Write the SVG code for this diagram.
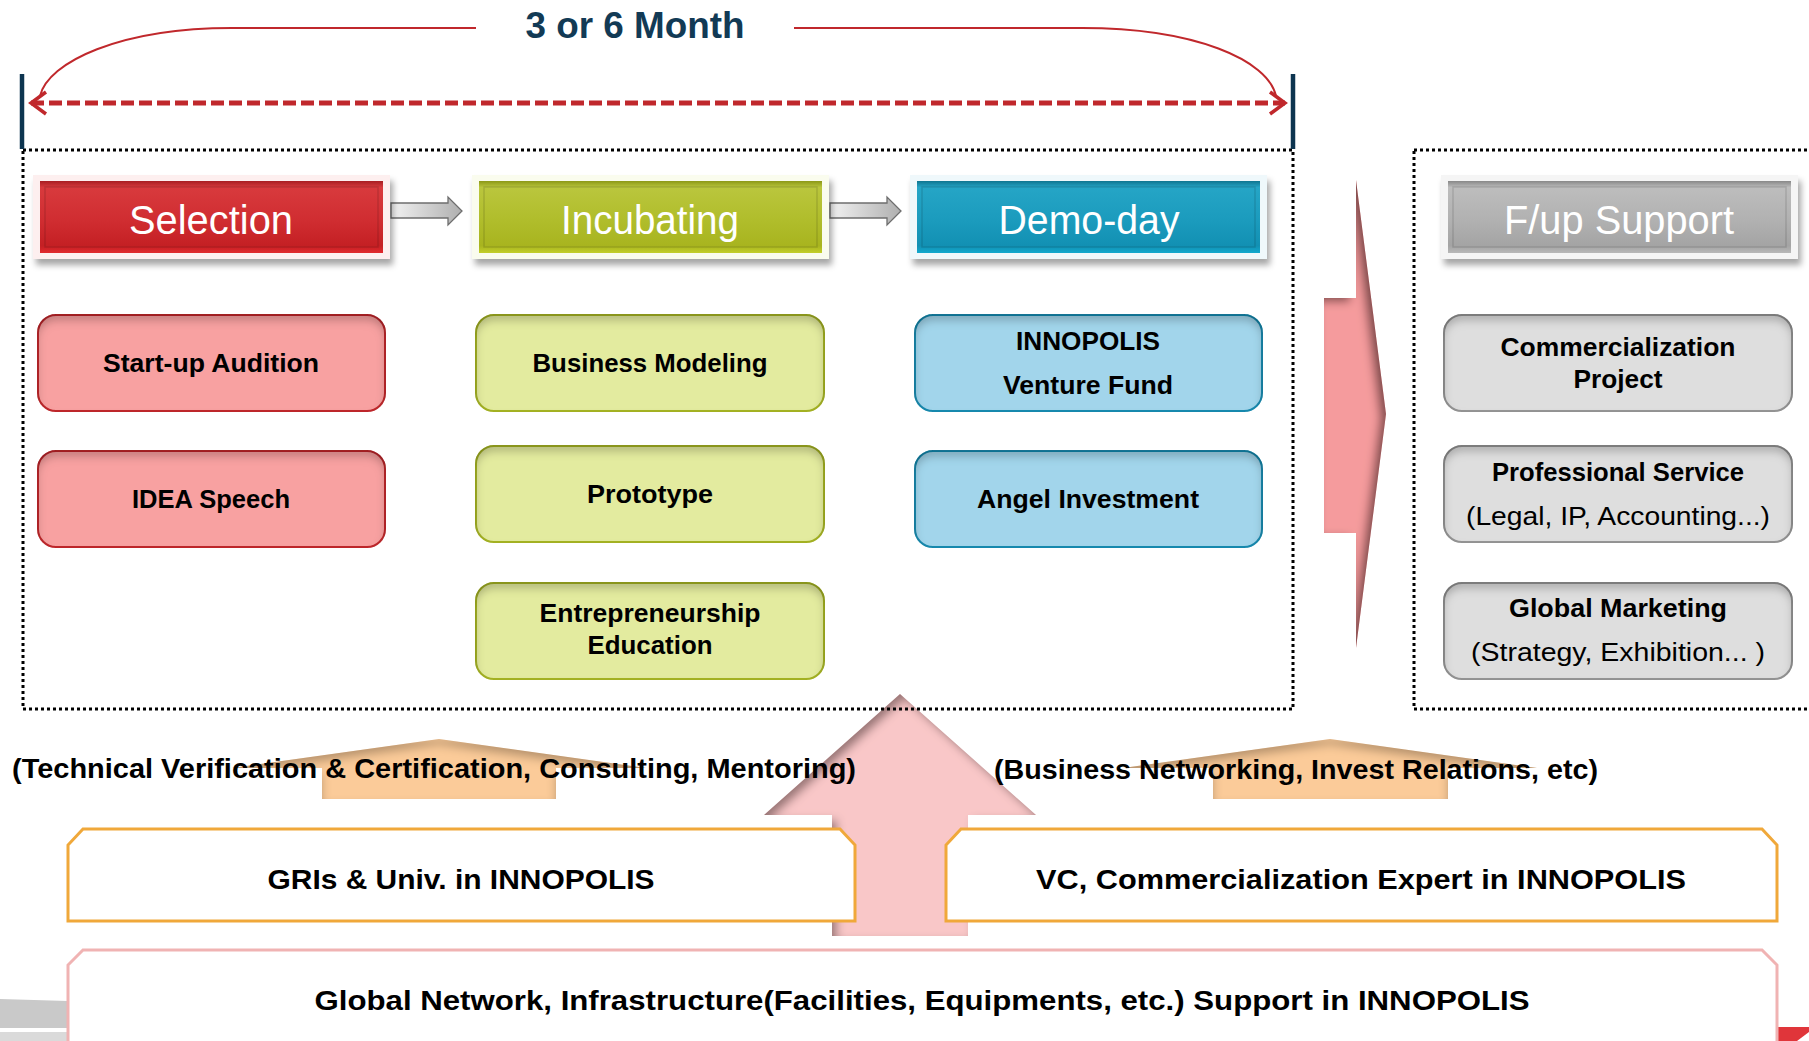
<svg xmlns="http://www.w3.org/2000/svg" width="1809" height="1041" viewBox="0 0 1809 1041">
<style>
.hdr{font-family:"Liberation Sans",Arial,sans-serif;font-size:40px;fill:#fff;text-anchor:middle}
.bt{font-family:"Liberation Sans",Arial,sans-serif;font-weight:bold;font-size:25px;fill:#000;text-anchor:middle}
.rt{font-family:"Liberation Sans",Arial,sans-serif;font-size:25px;fill:#000;text-anchor:middle}
.lbl{font-family:"Liberation Sans",Arial,sans-serif;font-weight:bold;font-size:28px;fill:#000;text-anchor:middle}
.dot{fill:none;stroke:#000;stroke-width:3;stroke-dasharray:3 3}
.frame{filter:url(#drop)}
.pk{fill:#F8A1A1;stroke:#C12B2E;stroke-width:2}
.lm{fill:#E3EB9F;stroke:#A6B426;stroke-width:2}
.bl{fill:#A2D5EB;stroke:#1D8BB0;stroke-width:2}
.gy{fill:#DEDEDE;stroke:#959595;stroke-width:2}
.ob{fill:#fff;stroke:#F0A83A;stroke-width:3}
.hbar{fill:url(#gArrow);stroke:#6E6E6E;stroke-width:1.3}
</style>
<defs>
<filter id="inner" x="-10%" y="-10%" width="120%" height="120%">
<feComponentTransfer in="SourceAlpha" result="inv"><feFuncA type="table" tableValues="1 0"/></feComponentTransfer>
<feGaussianBlur in="inv" stdDeviation="5" result="blur"/>
<feOffset in="blur" dx="0" dy="6" result="off"/>
<feFlood flood-color="#000" flood-opacity="0.5"/>
<feComposite in2="off" operator="in" result="sh"/>
<feComposite in="sh" in2="SourceAlpha" operator="in" result="ins"/>
<feMerge><feMergeNode in="SourceGraphic"/><feMergeNode in="ins"/></feMerge>
</filter>
<filter id="innerR" x="-20%" y="-10%" width="140%" height="120%">
<feComponentTransfer in="SourceAlpha" result="inv"><feFuncA type="table" tableValues="1 0"/></feComponentTransfer>
<feGaussianBlur in="inv" stdDeviation="5" result="blur"/>
<feOffset in="blur" dx="-6" dy="4" result="off"/>
<feFlood flood-color="#3a0d0d" flood-opacity="0.8"/>
<feComposite in2="off" operator="in" result="sh"/>
<feComposite in="sh" in2="SourceAlpha" operator="in" result="ins"/>
<feMerge><feMergeNode in="SourceGraphic"/><feMergeNode in="ins"/></feMerge>
</filter>
<filter id="innerU" x="-10%" y="-10%" width="120%" height="120%">
<feComponentTransfer in="SourceAlpha" result="inv"><feFuncA type="table" tableValues="1 0"/></feComponentTransfer>
<feGaussianBlur in="inv" stdDeviation="5" result="blur"/>
<feOffset in="blur" dx="5" dy="5" result="off"/>
<feFlood flood-color="#3a1a1a" flood-opacity="0.7"/>
<feComposite in2="off" operator="in" result="sh"/>
<feComposite in="sh" in2="SourceAlpha" operator="in" result="ins"/>
<feMerge><feMergeNode in="SourceGraphic"/><feMergeNode in="ins"/></feMerge>
</filter>
<filter id="drop" x="-10%" y="-20%" width="120%" height="150%">
<feDropShadow dx="3" dy="6" stdDeviation="3" flood-color="#000" flood-opacity="0.35"/>
</filter>
<linearGradient id="gRed" x1="0" y1="0" x2="0" y2="1">
<stop offset="0" stop-color="#A71E22"/><stop offset="0.09" stop-color="#D83A3D"/><stop offset="0.55" stop-color="#D02D31"/><stop offset="0.9" stop-color="#C42024"/><stop offset="1" stop-color="#E2292D"/>
</linearGradient>
<linearGradient id="gOlive" x1="0" y1="0" x2="0" y2="1">
<stop offset="0" stop-color="#8C9817"/><stop offset="0.09" stop-color="#BAC63D"/><stop offset="0.55" stop-color="#B0BD2B"/><stop offset="0.9" stop-color="#A8B41F"/><stop offset="1" stop-color="#C3CF2A"/>
</linearGradient>
<linearGradient id="gTeal" x1="0" y1="0" x2="0" y2="1">
<stop offset="0" stop-color="#0F7590"/><stop offset="0.09" stop-color="#25A5C6"/><stop offset="0.55" stop-color="#1B9BBD"/><stop offset="0.9" stop-color="#1290B3"/><stop offset="1" stop-color="#12A9CE"/>
</linearGradient>
<linearGradient id="gGray" x1="0" y1="0" x2="0" y2="1">
<stop offset="0" stop-color="#888"/><stop offset="0.09" stop-color="#BDBDBD"/><stop offset="0.55" stop-color="#B1B1B1"/><stop offset="0.9" stop-color="#A4A4A4"/><stop offset="1" stop-color="#B8B8B8"/>
</linearGradient>
<linearGradient id="gArrow" x1="0" y1="0" x2="1" y2="0">
<stop offset="0" stop-color="#F2F2F2"/><stop offset="1" stop-color="#AFAFAF"/>
</linearGradient>
<marker id="chev" viewBox="-6 -8 20 28" refX="11" refY="6" markerWidth="20" markerHeight="28" markerUnits="userSpaceOnUse" orient="auto-start-reverse">
<path d="M-4,-5 L11,6 L-4,17" fill="none" stroke="#C0282C" stroke-width="3.5"/>
</marker>
</defs>
<rect width="1809" height="1041" fill="#fff"/>

<!-- slide decorations -->
<polygon points="0,999 68,1001 68,1028 0,1028" fill="#C9C9C9"/>
<rect x="0" y="1032" width="68" height="9" fill="#DADADA"/>
<polygon points="1778,1027 1809,1027 1809,1032 1797,1041 1778,1041" fill="#E0353A"/>

<!-- big background arrows -->
<g id="arrows">
<polygon id="up-arrow" points="900,694 1036,815 968,815 968,936 832,936 832,815 764,815" fill="#F9C7C8" filter="url(#innerU)"/>
<polygon id="right-arrow" points="1324,298 1356,298 1356,180 1386,414 1356,648 1356,533 1324,533" fill="#F59B9D" filter="url(#innerR)"/>
<polygon id="small-arrow-left" points="439,739 646,768 556,768 556,799 322,799 322,768 232,768" fill="#FBCB99" filter="url(#inner)"/>
<polygon id="small-arrow-right" points="1330,739 1537,768 1448,768 1448,799 1213,799 1213,768 1123,768" fill="#FBCB99" filter="url(#inner)"/>
</g>

<!-- containers -->
<rect id="program-box" class="dot" x="23" y="150" width="1270" height="559"/>
<rect id="fup-box" class="dot" x="1414" y="150" width="400" height="559"/>

<!-- timeline -->
<g id="timeline">
<line x1="22" y1="74" x2="22" y2="149" stroke="#0D3550" stroke-width="4.5"/>
<line x1="1293" y1="74" x2="1293" y2="149" stroke="#0D3550" stroke-width="4.5"/>
<text x="635" y="38" font-family="'Liberation Sans',Arial,sans-serif" font-weight="bold" font-size="36" fill="#123A55" text-anchor="middle" textLength="219" lengthAdjust="spacingAndGlyphs">3 or 6 Month</text>
</g>

<g id="connectors" fill="none">
<path d="M476,28 L232,28 C120,28 48,62 40,96" stroke="#C0282C" stroke-width="2"/>
<path d="M794,28 L1082,28 C1195,28 1268,60 1276,96" stroke="#C0282C" stroke-width="2"/>
<line x1="31" y1="103" x2="1285" y2="103" stroke="#C0282C" stroke-width="5" stroke-dasharray="13 5" marker-start="url(#chev)" marker-end="url(#chev)"/>
<polygon class="hbar" points="391,203 448,203 448,197 462,211 448,225 448,218 391,218"/>
<polygon class="hbar" points="830,203 887,203 887,197 901,211 887,225 887,218 830,218"/>
</g>

<!-- header nodes -->
<g id="selection">
<rect class="frame" x="33" y="175" width="357" height="84" fill="#FDEFEF"/>
<rect x="40" y="181" width="343" height="72" fill="url(#gRed)"/>
<rect x="45" y="187" width="333" height="60" fill="none" stroke="#000" stroke-opacity="0.12" stroke-width="1.5"/>
<text class="hdr" x="211" y="234" textLength="164" lengthAdjust="spacingAndGlyphs">Selection</text>
</g>
<g id="incubating">
<rect class="frame" x="472" y="175" width="357" height="84" fill="#FAFCEE"/>
<rect x="479" y="181" width="343" height="72" fill="url(#gOlive)"/>
<rect x="484" y="187" width="333" height="60" fill="none" stroke="#000" stroke-opacity="0.12" stroke-width="1.5"/>
<text class="hdr" x="650" y="234" textLength="178" lengthAdjust="spacingAndGlyphs">Incubating</text>
</g>
<g id="demo-day">
<rect class="frame" x="910" y="175" width="357" height="84" fill="#EFF8FB"/>
<rect x="917" y="181" width="343" height="72" fill="url(#gTeal)"/>
<rect x="922" y="187" width="333" height="60" fill="none" stroke="#000" stroke-opacity="0.12" stroke-width="1.5"/>
<text class="hdr" x="1089" y="234" textLength="181" lengthAdjust="spacingAndGlyphs">Demo-day</text>
</g>
<g id="fup-support">
<rect class="frame" x="1441" y="175" width="357" height="84" fill="#F5F5F5"/>
<rect x="1448" y="181" width="343" height="72" fill="url(#gGray)"/>
<rect x="1453" y="187" width="333" height="60" fill="none" stroke="#000" stroke-opacity="0.12" stroke-width="1.5"/>
<text class="hdr" x="1619" y="234" textLength="230" lengthAdjust="spacingAndGlyphs">F/up Support</text>
</g>

<!-- selection items -->
<g id="start-up-audition">
<rect class="pk" x="38" y="315" width="347" height="96" rx="18" filter="url(#inner)"/>
<text class="bt" x="211" y="372" textLength="216" lengthAdjust="spacingAndGlyphs">Start-up Audition</text>
</g>
<g id="idea-speech">
<rect class="pk" x="38" y="451" width="347" height="96" rx="18" filter="url(#inner)"/>
<text class="bt" x="211" y="508" textLength="158" lengthAdjust="spacingAndGlyphs">IDEA Speech</text>
</g>

<!-- incubating items -->
<g id="business-modeling">
<rect class="lm" x="476" y="315" width="348" height="96" rx="18" filter="url(#inner)"/>
<text class="bt" x="650" y="372" textLength="235" lengthAdjust="spacingAndGlyphs">Business Modeling</text>
</g>
<g id="prototype">
<rect class="lm" x="476" y="446" width="348" height="96" rx="18" filter="url(#inner)"/>
<text class="bt" x="650" y="503" textLength="126" lengthAdjust="spacingAndGlyphs">Prototype</text>
</g>
<g id="entrepreneurship-education">
<rect class="lm" x="476" y="583" width="348" height="96" rx="18" filter="url(#inner)"/>
<text class="bt" x="650" y="622" textLength="221" lengthAdjust="spacingAndGlyphs">Entrepreneurship</text>
<text class="bt" x="650" y="654" textLength="125" lengthAdjust="spacingAndGlyphs">Education</text>
</g>

<!-- demo-day items -->
<g id="innopolis-venture-fund">
<rect class="bl" x="915" y="315" width="347" height="96" rx="18" filter="url(#inner)"/>
<text class="bt" x="1088" y="350" textLength="144" lengthAdjust="spacingAndGlyphs">INNOPOLIS</text>
<text class="bt" x="1088" y="394" textLength="170" lengthAdjust="spacingAndGlyphs">Venture Fund</text>
</g>
<g id="angel-investment">
<rect class="bl" x="915" y="451" width="347" height="96" rx="18" filter="url(#inner)"/>
<text class="bt" x="1088" y="508" textLength="222" lengthAdjust="spacingAndGlyphs">Angel Investment</text>
</g>

<!-- follow-up items -->
<g id="commercialization-project">
<rect class="gy" x="1444" y="315" width="348" height="96" rx="18" filter="url(#inner)"/>
<text class="bt" x="1618" y="356" textLength="235" lengthAdjust="spacingAndGlyphs">Commercialization</text>
<text class="bt" x="1618" y="388" textLength="89" lengthAdjust="spacingAndGlyphs">Project</text>
</g>
<g id="professional-service">
<rect class="gy" x="1444" y="446" width="348" height="96" rx="18" filter="url(#inner)"/>
<text class="bt" x="1618" y="481" textLength="252" lengthAdjust="spacingAndGlyphs">Professional Service</text>
<text class="rt" x="1618" y="525" textLength="304" lengthAdjust="spacingAndGlyphs">(Legal, IP, Accounting...)</text>
</g>
<g id="global-marketing">
<rect class="gy" x="1444" y="583" width="348" height="96" rx="18" filter="url(#inner)"/>
<text class="bt" x="1618" y="617" textLength="218" lengthAdjust="spacingAndGlyphs">Global Marketing</text>
<text class="rt" x="1618" y="661" textLength="294" lengthAdjust="spacingAndGlyphs">(Strategy, Exhibition... )</text>
</g>

<!-- support labels -->
<text id="label-left" class="lbl" x="434" y="778" textLength="844" lengthAdjust="spacingAndGlyphs">(Technical Verification &amp; Certification, Consulting, Mentoring)</text>
<text id="label-right" class="lbl" x="1296" y="779" textLength="604" lengthAdjust="spacingAndGlyphs">(Business Networking, Invest Relations, etc)</text>

<!-- support base nodes -->
<g id="gris-univ">
<path class="ob" d="M68,921 L68,845 L83,829 L840,829 L855,845 L855,921 Z"/>
<text class="lbl" x="461" y="889" font-size="29" textLength="387" lengthAdjust="spacingAndGlyphs">GRIs &amp; Univ. in INNOPOLIS</text>
</g>
<g id="vc-expert">
<path class="ob" d="M946,921 L946,845 L961,829 L1762,829 L1777,845 L1777,921 Z"/>
<text class="lbl" x="1361" y="889" font-size="29" textLength="650" lengthAdjust="spacingAndGlyphs">VC, Commercialization Expert in INNOPOLIS</text>
</g>
<g id="global-network">
<path d="M68,1050 L68,965 L83,950 L1762,950 L1777,965 L1777,1050" fill="#fff" stroke="#F0B3B3" stroke-width="3"/>
<text class="lbl" x="922" y="1010" font-size="29" textLength="1215" lengthAdjust="spacingAndGlyphs">Global Network, Infrastructure(Facilities, Equipments, etc.) Support in INNOPOLIS</text>
</g>
</svg>
